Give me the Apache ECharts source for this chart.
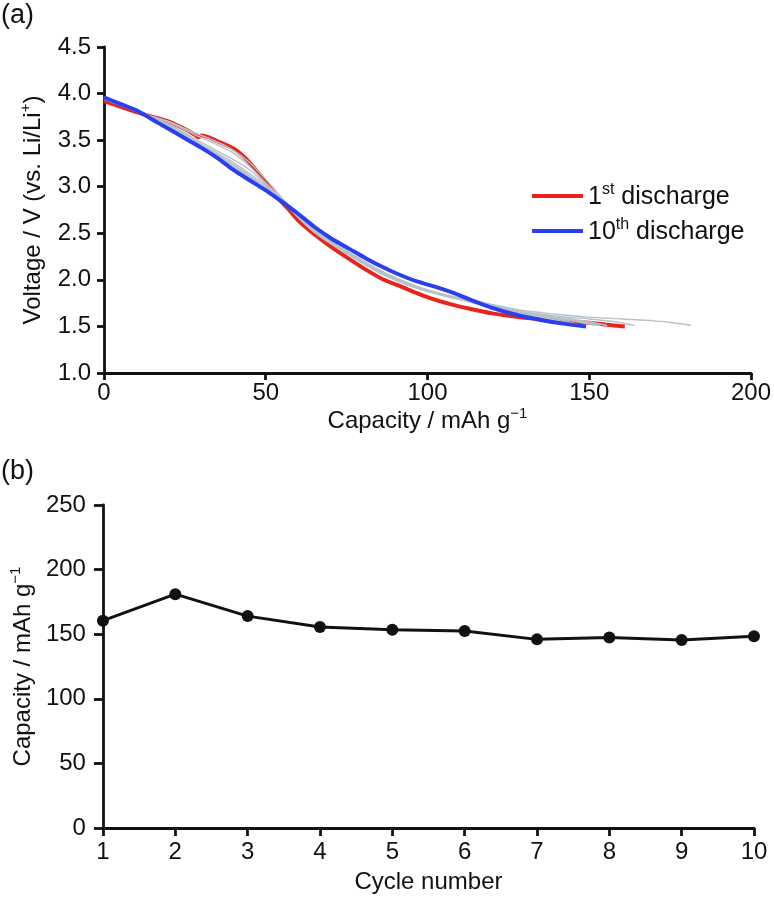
<!DOCTYPE html>
<html>
<head>
<meta charset="utf-8">
<script src="https://cdn.jsdelivr.net/npm/echarts@6/dist/echarts.min.js"></script>
<style>
html,body{margin:0;padding:0;background:#fff;}
#chart{width:774px;height:899px;}
</style>
</head>
<body>
<div id="chart"></div>
<script>
// ---- Panel (a): discharge curves [capacity mAh/g, voltage V] ----
const xTicksA = [0, 50, 100, 150, 200];
const yTicksA = [1.0, 1.5, 2.0, 2.5, 3.0, 3.5, 4.0, 4.5];
const firstDischarge = [[0,3.92],[5,3.86],[10,3.80],[15,3.75],[20,3.70],[25,3.62],[28.5,3.55],[29.2,3.53],[30.2,3.55],[35,3.49],[40,3.41],[43,3.33],[46,3.22],[50,3.05],[54,2.87],[57,2.76],[60,2.64],[65,2.49],[70,2.36],[76,2.22],[80,2.13],[86,2.01],[91,1.94],[96.5,1.86],[102,1.79],[107,1.74],[113,1.69],[120,1.64],[128,1.60],[138,1.57],[145,1.55],[150,1.54],[155,1.52],[161,1.50]];
const tenthDischarge = [[0,3.96],[5,3.89],[10,3.82],[17,3.68],[25,3.52],[30,3.42],[35,3.31],[40,3.18],[45,3.07],[50,2.96],[55,2.84],[57,2.79],[60,2.71],[65,2.57],[70,2.45],[76,2.33],[81,2.23],[86,2.14],[91,2.06],[97,1.98],[103,1.92],[108,1.86],[113,1.79],[120,1.70],[128,1.62],[135,1.57],[142,1.53],[149,1.50]];
const cycle2 = [[0,3.94],[10,3.81],[20,3.70],[28,3.58],[35,3.48],[40,3.39],[45,3.26],[50,3.08],[55,2.88],[60,2.68],[65,2.52],[70,2.40],[76,2.27],[86,2.07],[96,1.93],[107,1.83],[118,1.75],[128,1.68],[140,1.63],[150,1.60],[160,1.58],[170,1.56],[176,1.54],[181.5,1.51]];
const cycle3 = [[0,3.95],[10,3.81],[20,3.69],[28,3.56],[35,3.45],[40,3.36],[45,3.22],[50,3.04],[55,2.86],[60,2.67],[65,2.51],[70,2.39],[76,2.26],[86,2.06],[96,1.92],[107,1.82],[118,1.74],[128,1.67],[140,1.61],[150,1.58],[158,1.55],[164,1.51]];
const cycle4 = [[0,3.95],[10,3.81],[20,3.67],[30,3.48],[40,3.29],[45,3.18],[50,3.03],[55,2.87],[60,2.68],[65,2.52],[70,2.40],[76,2.27],[86,2.07],[96,1.92],[107,1.82],[118,1.73],[128,1.66],[140,1.60],[150,1.55],[155.5,1.51]];
const cycle5 = [[0,3.95],[10,3.81],[20,3.66],[30,3.46],[40,3.26],[45,3.14],[50,3.01],[55,2.86],[60,2.68],[65,2.52],[70,2.40],[76,2.27],[86,2.07],[96,1.92],[107,1.81],[118,1.73],[128,1.66],[140,1.59],[148,1.55],[153.5,1.51]];
const cycle6 = [[0,3.96],[10,3.81],[20,3.65],[30,3.45],[40,3.24],[45,3.12],[50,2.99],[55,2.86],[60,2.69],[65,2.53],[70,2.41],[76,2.28],[86,2.08],[96,1.93],[107,1.82],[118,1.73],[128,1.66],[140,1.59],[148,1.54],[152.5,1.51]];
const cycle7 = [[0,3.96],[10,3.82],[20,3.64],[30,3.44],[40,3.21],[45,3.10],[50,2.98],[55,2.85],[60,2.69],[65,2.53],[70,2.41],[76,2.28],[86,2.08],[96,1.93],[107,1.82],[118,1.72],[128,1.65],[138,1.58],[146,1.51]];
const cycle8 = [[0,3.96],[10,3.82],[20,3.65],[30,3.45],[40,3.23],[45,3.11],[50,2.99],[55,2.86],[60,2.69],[65,2.53],[70,2.41],[76,2.28],[86,2.08],[96,1.93],[107,1.82],[118,1.73],[128,1.66],[139,1.59],[147.5,1.51]];
const cycle9 = [[0,3.96],[10,3.82],[20,3.64],[30,3.43],[40,3.20],[45,3.09],[50,2.97],[55,2.85],[60,2.70],[65,2.54],[70,2.42],[76,2.29],[86,2.09],[96,1.94],[107,1.82],[118,1.72],[128,1.65],[138,1.58],[145.5,1.51]];
const grayCycles = [cycle2, cycle3, cycle4, cycle5, cycle6, cycle7, cycle8, cycle9];

// ---- Panel (b): capacity vs cycle ----
const cycles = [1, 2, 3, 4, 5, 6, 7, 8, 9, 10];
const capacity = [160.5, 181, 164, 155.5, 153.5, 152.5, 146, 147.5, 145.5, 148.5];
const yTicksB = [0, 50, 100, 150, 200, 250];

const FONT = '"Liberation Sans", Arial, Helvetica, sans-serif';
const FS = 24;
const rich = {
  n: {fontSize: FS, fontFamily: FONT, color: '#111', verticalAlign: 'bottom', lineHeight: 27},
  s: {fontSize: 15, fontFamily: FONT, color: '#111', verticalAlign: 'top', lineHeight: 18}
};
const legendRich = {
  n: {fontSize: 25, fontFamily: FONT, color: '#111', verticalAlign: 'bottom', lineHeight: 28},
  s: {fontSize: 16, fontFamily: FONT, color: '#111', verticalAlign: 'top', lineHeight: 19}
};
const axisLine = {show: true, onZero: false, lineStyle: {color: '#111', width: 2.8}};
const tick = (len) => ({show: true, inside: false, length: len, lineStyle: {color: '#111', width: 2.8}});
const lbl = (fmt, m) => ({show: true, color: '#111', fontSize: FS, fontFamily: FONT, margin: m, formatter: fmt});

const chart = echarts.init(document.getElementById('chart'), null, {renderer: 'canvas'});

const series = [];
series.push({
  name: '1st discharge', type: 'line', xAxisIndex: 0, yAxisIndex: 0,
  data: firstDischarge, showSymbol: false, smooth: 0.3, z: 3,
  lineStyle: {color: '#e8241c', width: 4}, itemStyle: {color: '#e8241c'}
});
grayCycles.forEach((c, i) => series.push({
  name: 'cycle ' + (i + 2), type: 'line', xAxisIndex: 0, yAxisIndex: 0,
  data: c, showSymbol: false, smooth: 0.3, z: 4,
  lineStyle: {color: '#b7c2c9', width: 1.4}, itemStyle: {color: '#b7c2c9'}
}));
series.push({
  name: '10th discharge', type: 'line', xAxisIndex: 0, yAxisIndex: 0,
  data: tenthDischarge, showSymbol: false, smooth: 0.3, z: 5,
  lineStyle: {color: '#2a3ff0', width: 4}, itemStyle: {color: '#2a3ff0'}
});
series.push({
  name: 'capacity', type: 'line', xAxisIndex: 1, yAxisIndex: 1,
  data: cycles.map((c, i) => [c, capacity[i]]),
  symbol: 'circle', symbolSize: 12, showSymbol: true,
  lineStyle: {color: '#111', width: 3}, itemStyle: {color: '#111'}
});

chart.setOption({
  animation: false,
  backgroundColor: '#fff',
  textStyle: {fontFamily: FONT},
  graphic: [
    {type: 'text', left: 1, top: 2, style: {text: '(a)', font: '27px ' + FONT, fill: '#111'}},
    {type: 'text', left: 1, top: 458, style: {text: '(b)', font: '27px ' + FONT, fill: '#111'}}
  ],
  legend: {
    data: ['1st discharge', '10th discharge'],
    orient: 'vertical', left: 527, top: 177,
    icon: 'rect', itemWidth: 51, itemHeight: 4, itemGap: 7,
    formatter: (name) => name.replace(/^(\d+)(st|th)(.*)$/, '{n|$1}{s|$2}{n|$3}'),
    textStyle: {rich: legendRich},
    selectedMode: false
  },
  grid: [
    {left: 104, right: 21, top: 47, bottom: 526, containLabel: false},
    {left: 100, right: 20, top: 505, bottom: 71, containLabel: false}
  ],
  xAxis: [
    {
      gridIndex: 0, type: 'value', min: xTicksA[0], max: xTicksA[xTicksA.length - 1], interval: 50,
      axisLine, axisTick: tick(7), splitLine: {show: false}, axisLabel: lbl(v => String(v), 8),
      name: '{n|Capacity / mAh g}{s|−1}', nameLocation: 'middle', nameGap: 33,
      nameTextStyle: {rich: rich}
    },
    {
      gridIndex: 1, type: 'value', min: cycles[0], max: cycles[cycles.length - 1], interval: 1,
      axisLine, axisTick: tick(8), splitLine: {show: false}, axisLabel: lbl(v => String(v), 12),
      name: 'Cycle number', nameLocation: 'middle', nameGap: 42,
      nameTextStyle: {color: '#111', fontSize: FS, fontFamily: FONT}
    }
  ],
  yAxis: [
    {
      gridIndex: 0, type: 'value', min: yTicksA[0], max: yTicksA[yTicksA.length - 1], interval: 0.5,
      axisLine, axisTick: tick(7), splitLine: {show: false}, axisLabel: lbl(v => v.toFixed(1), 13),
      name: '{n|Voltage / V (vs. Li/Li}{s|+}{n|)}', nameLocation: 'middle', nameGap: 59, nameRotate: 90,
      nameTextStyle: {rich: rich}
    },
    {
      gridIndex: 1, type: 'value', min: yTicksB[0], max: yTicksB[yTicksB.length - 1], interval: 50,
      axisLine, axisTick: tick(9), splitLine: {show: false}, axisLabel: lbl(v => String(v), 17),
      name: '{n|Capacity / mAh g}{s|−1}', nameLocation: 'middle', nameGap: 61, nameRotate: 90,
      nameTextStyle: {rich: rich}
    }
  ],
  series
});
</script>
</body>
</html>
